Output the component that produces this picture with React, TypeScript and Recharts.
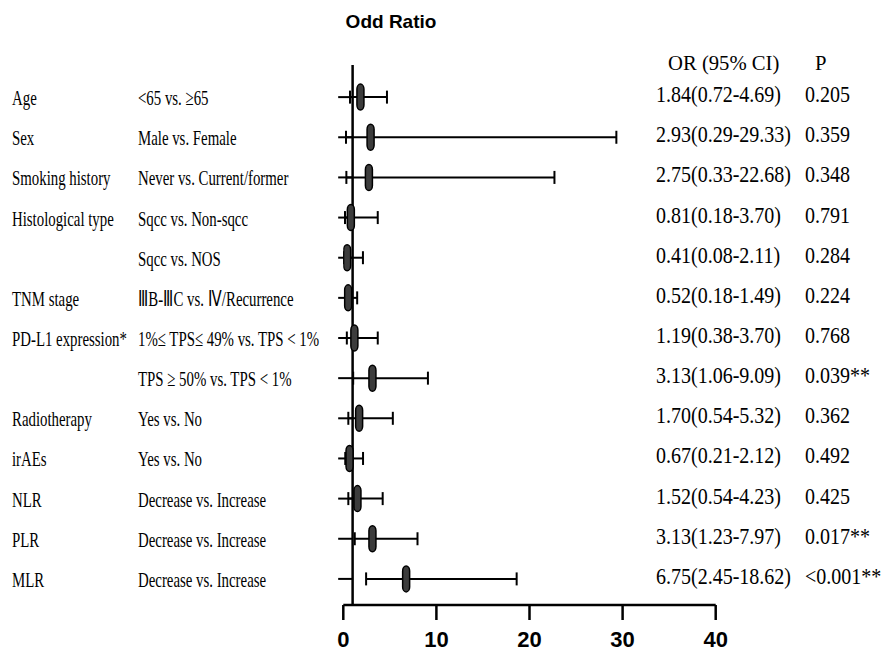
import { ScatterChart, Scatter, ErrorBar, XAxis, YAxis, ReferenceLine } from 'recharts';

const variables = [
  'Age',
  'Sex',
  'Smoking history',
  'Histological type',
  '',
  'TNM stage',
  'PD-L1 expression*',
  '',
  'Radiotherapy',
  'irAEs',
  'NLR',
  'PLR',
  'MLR',
];
const comparisons = [
  '<65 vs. ≥65',
  'Male vs. Female',
  'Never vs. Current/former',
  'Sqcc vs. Non-sqcc',
  'Sqcc vs. NOS',
  'ⅢB-ⅢC vs. Ⅳ/Recurrence',
  '1%≤ TPS≤ 49% vs. TPS < 1%',
  'TPS ≥ 50% vs. TPS < 1%',
  'Yes vs. No',
  'Yes vs. No',
  'Decrease vs. Increase',
  'Decrease vs. Increase',
  'Decrease vs. Increase',
];
const oddsRatios = [1.84, 2.93, 2.75, 0.81, 0.41, 0.52, 1.19, 3.13, 1.7, 0.67, 1.52, 3.13, 6.75];
const ciLower = [0.72, 0.29, 0.33, 0.18, 0.08, 0.18, 0.38, 1.06, 0.54, 0.21, 0.54, 1.23, 2.45];
const ciUpper = [4.69, 29.33, 22.68, 3.7, 2.11, 1.49, 3.7, 9.09, 5.32, 2.12, 4.23, 7.97, 18.62];
const pValues = ['0.205', '0.359', '0.348', '0.791', '0.284', '0.224', '0.768', '0.039**', '0.362', '0.492', '0.425', '0.017**', '<0.001**'];
const xTicks = [0, 10, 20, 30, 40];

const rows = oddsRatios.map((or, i) => ({
  row: i,
  or,
  err: [or - ciLower[i], ciUpper[i] - or],
}));
const rowTicks = rows.map((r) => r.row);

const SERIF = '"Liberation Serif", "Times New Roman", serif';
const SANS = '"Liberation Sans", Arial, sans-serif';

const fmt = (v: number) => v.toFixed(2);

// one tick = the whole table line (left labels + OR text + P)
const RowTick = (props: any) => {
  const { y, payload } = props;
  const i = payload.value;
  const orText = `${fmt(oddsRatios[i])}(${fmt(ciLower[i])}-${fmt(ciUpper[i])})`;
  return (
    <g fill="#000">
      <text transform={`translate(12, ${y + 8}) scale(0.675, 1)`} fontFamily={SERIF} fontSize={22}>
        {variables[i]}
      </text>
      <text transform={`translate(138, ${y + 8}) scale(0.675, 1)`} fontFamily={SERIF} fontSize={22}>
        {comparisons[i]}
      </text>
      <text transform={`translate(656, ${y + 5}) scale(0.87, 1)`} fontFamily={SERIF} fontSize={23}>
        {orText}
      </text>
      <text transform={`translate(805, ${y + 5}) scale(0.87, 1)`} fontFamily={SERIF} fontSize={23}>
        {pValues[i]}
      </text>
    </g>
  );
};

// OR marker: small dark capsule
const OrMarker = (props: any) => {
  const { cx, cy } = props;
  if (cx == null || cy == null) return null;
  return (
    <rect x={cx - 3.5} y={cy - 13} width={7} height={26} rx={3.5} ry={5} fill="#3c3c3c" stroke="#000" strokeWidth={1.5} />
  );
};

export default function App() {
  return (
    <div style={{ position: 'absolute', left: 0, top: 0, width: 889, height: 653, background: '#fff' }}>
      <ScatterChart width={889} height={653} margin={{ top: 65, right: 173.3, bottom: 0, left: 43.3 }}>
        <XAxis
          type="number"
          dataKey="or"
          domain={[0, 40]}
          ticks={xTicks}
          allowDataOverflow
          height={48}
          tickSize={15}
          tickMargin={11}
          axisLine={{ stroke: '#000', strokeWidth: 2.5 }}
          tickLine={{ stroke: '#000', strokeWidth: 2.5 }}
          tick={{ fill: '#000', fontFamily: SANS, fontWeight: 700, fontSize: 22 }}
        />
        <YAxis
          type="number"
          dataKey="row"
          domain={[-0.8, 12.65]}
          reversed
          allowDataOverflow
          ticks={rowTicks}
          interval={0}
          width={300}
          axisLine={false}
          tickLine={false}
          tick={<RowTick />}
        />
        <ReferenceLine x={1} stroke="#000" strokeWidth={2.5} />
        {rows.map((r) => (
          <ReferenceLine
            key={r.row}
            segment={[{ x: -0.55, y: r.row }, { x: 1, y: r.row }]}
            ifOverflow="visible"
            stroke="#000"
            strokeWidth={2}
          />
        ))}
        <Scatter data={rows} shape={<OrMarker />} isAnimationActive={false}>
          <ErrorBar dataKey="err" direction="x" width={6.5} stroke="#000" strokeWidth={2} />
        </Scatter>
        <text x={391} y={28} textAnchor="middle" fontFamily={SANS} fontWeight={700} fontSize={19} fill="#000">
          Odd Ratio
        </text>
        <text transform="translate(668, 70) scale(0.94, 1)" fontFamily={SERIF} fontSize={22} fill="#000">
          OR (95% CI)
        </text>
        <text transform="translate(815, 70) scale(0.94, 1)" fontFamily={SERIF} fontSize={22} fill="#000">
          P
        </text>
      </ScatterChart>
    </div>
  );
}
